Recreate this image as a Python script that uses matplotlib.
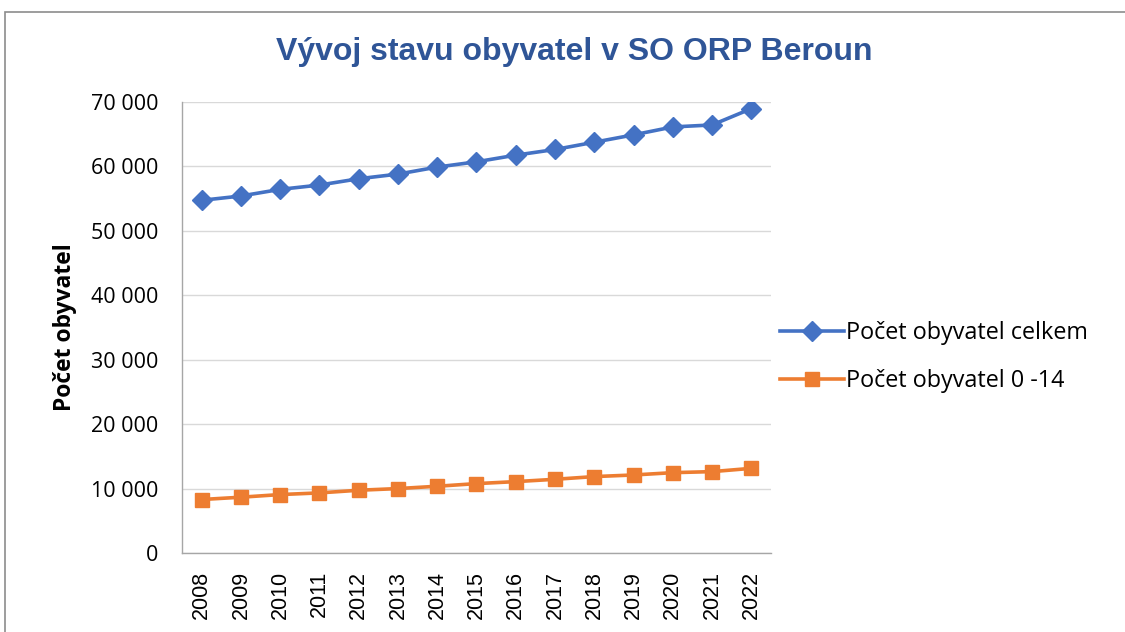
import matplotlib
matplotlib.use("Agg")
import matplotlib.pyplot as plt
from matplotlib.patches import Rectangle

# data
years = [str(y) for y in range(2008, 2023)]
total = [54740, 55410, 56440, 57110, 58090, 58810, 59900, 60720,
         61750, 62630, 63760, 64900, 66130, 66440, 68970]
kids = [8300, 8660, 9070, 9330, 9740, 10000, 10360, 10770,
        11080, 11440, 11860, 12110, 12470, 12630, 13140]

title = "Vývoj stavu obyvatel v SO ORP Beroun"
ylabel = "Počet obyvatel"
label_total = "Počet obyvatel celkem"
label_kids = "Počet obyvatel 0 -14"
yticks = [0, 10000, 20000, 30000, 40000, 50000, 60000, 70000]

blue = "#4472C4"
orange = "#ED7D31"
grid_col = "#D9D9D9"

plt.rcParams['font.family'] = ['Open Sans', 'DejaVu Sans']

fig = plt.figure(figsize=(11.25, 6.32), dpi=100)
ax = fig.add_axes([0.1618, 0.125, 0.5235, 0.7136])

x = list(range(len(years)))
ax.plot(x, total, color=blue, lw=2.6, marker='D', markersize=10,
        label=label_total)
ax.plot(x, kids, color=orange, lw=2.6, marker='s', markersize=10.5,
        label=label_kids)

ax.set_xlim(-0.5, len(years) - 0.5)
ax.set_ylim(0, 70000)
ax.set_yticks(yticks)
ax.set_yticklabels([f"{v:,}".replace(",", " ") for v in yticks], fontsize=15.5)
ax.set_xticks(x)
ax.set_xticklabels(years, rotation=90, fontsize=15.5, family='Liberation Sans')
ax.tick_params(axis='y', length=0, pad=17)
ax.tick_params(axis='x', length=0, pad=13)

ax.grid(axis='y', color=grid_col, lw=1)
ax.set_axisbelow(True)
for s in ['top', 'right']:
    ax.spines[s].set_visible(False)
for s in ['left', 'bottom']:
    ax.spines[s].set_color('#A6A6A6')
    ax.spines[s].set_linewidth(1)

ax.set_ylabel(ylabel, fontsize=16.5, fontweight='bold', labelpad=10)

fig.text(0.510, 0.918, title, ha='center', va='center', fontsize=23,
         fontweight='bold', color='#2F5597', family='Liberation Sans')

fig.legend(loc='center left', bbox_to_anchor=(0.693, 0.435), frameon=False,
           fontsize=16.8, handlelength=2.75, handletextpad=0.1,
           labelspacing=1.05, borderpad=0, borderaxespad=0)

# chart border
fig.patches.append(Rectangle((0.0045, -0.01), 1.2, 0.991, transform=fig.transFigure,
                             fill=False, edgecolor='#8C8C8C', lw=1.2))

fig.savefig("out.png", dpi=100)
